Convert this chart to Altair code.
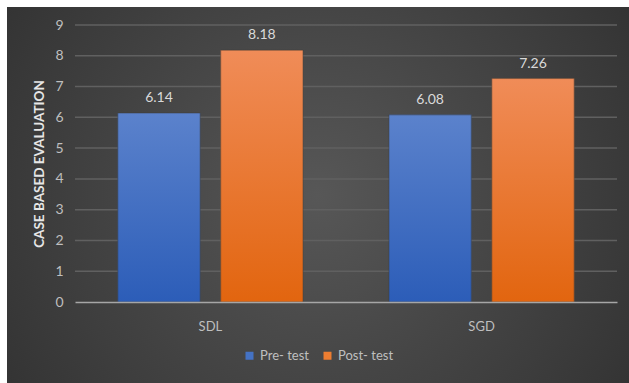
import altair as alt
import pandas as pd

categories = ["SDL", "SDL", "SGD", "SGD"]
series = ["Pre- test", "Post- test", "Pre- test", "Post- test"]
values = [6.14, 8.18, 6.08, 7.26]
series_order = ["Pre- test", "Post- test"]
series_colors = ["#4472c4", "#ed7d31"]
y_ticks = [0, 1, 2, 3, 4, 5, 6, 7, 8, 9]

df = pd.DataFrame({"cat": categories, "series": series, "value": values})
grid_df = pd.DataFrame({"value": [t for t in y_ticks if t > 0]})

W, H = 542, 277
PL, PT, PR, PB = 75, 25, 12, 81
FONT = "Lato"

x_enc = alt.X("cat:N", title=None, sort=["SDL", "SGD"],
              scale=alt.Scale(paddingInner=0.317, paddingOuter=0.158),
              axis=alt.Axis(labelAngle=0, labelColor="#bfbfbf", labelFontSize=13,
                            labelFont=FONT, ticks=False, labelPadding=18, zindex=1,
                            domainColor="#a6a6a6", domainWidth=1.5, grid=False))
xo_enc = alt.XOffset("series:N", sort=series_order,
                     scale=alt.Scale(paddingInner=0.2, paddingOuter=0))
y_scale = alt.Scale(domain=[0, 9], nice=False)
y_enc = alt.Y("value:Q", title="CASE BASED EVALUATION", scale=y_scale,
              axis=alt.Axis(values=y_ticks, labelColor="#bfbfbf", labelFontSize=14,
                            labelFont=FONT, ticks=False, labelPadding=12, domain=False,
                            grid=False, zindex=1, labelOverlap=False, tickCount=10,
                            titleColor="#e6e6e6", titleFont=FONT, titleFontSize=13.5,
                            titleFontWeight="bold", titlePadding=8))

bg = alt.Chart(alt.Data(values=[{"a": 1}])).mark_rect(
    fill=alt.Gradient(gradient="radial", x1=0.5, y1=0.5, r1=0, x2=0.5, y2=0.5, r2=0.75,
                      stops=[alt.GradientStop(color="#575757", offset=0),
                             alt.GradientStop(color="#2a2a2a", offset=1)])
).encode(x=alt.value(-(PL - 7)), x2=alt.value(W + PR), y=alt.value(-(PT - 7)), y2=alt.value(H + PB))

grid = alt.Chart(grid_df).mark_rule(color="#606060", strokeWidth=1.5).encode(
    y=y_enc, x=alt.value(0), x2=alt.value(W)
)

base = alt.Chart(df)

bars = base.mark_bar().encode(
    x=x_enc, xOffset=xo_enc, y=y_enc,
    color=alt.Color("series:N", sort=series_order,
                    scale=alt.Scale(domain=series_order, range=series_colors),
                    legend=alt.Legend(title=None, orient="none", direction="horizontal",
                                      legendX=168, legendY=324, symbolType="square",
                                      symbolSize=64, symbolStrokeWidth=0,
                                      labelColor="#bfbfbf", labelFontSize=13, labelFont=FONT,
                                      columnPadding=12, labelOffset=4))
)

def grad(top, bottom):
    return alt.Gradient(gradient="linear", x1=0, x2=0, y1=0, y2=1,
                        stops=[alt.GradientStop(color=top, offset=0),
                               alt.GradientStop(color=bottom, offset=1)])

pre = base.transform_filter(alt.datum.series == "Pre- test").mark_bar(
    color=grad("#5b82cc", "#2c5db8"), stroke="#3a3a3a", strokeWidth=0.5
).encode(x=x_enc, xOffset=xo_enc, y=y_enc)

post = base.transform_filter(alt.datum.series == "Post- test").mark_bar(
    color=grad("#f08c58", "#e2650f"), stroke="#3a3a3a", strokeWidth=0.5
).encode(x=x_enc, xOffset=xo_enc, y=y_enc)

labels = base.mark_text(baseline="bottom", dy=-8, color="#d9d9d9", fontSize=14, font=FONT).encode(
    x=x_enc, xOffset=xo_enc, y=y_enc, text=alt.Text("value:Q", format=".2f")
)

chart = alt.layer(bg, grid, bars, pre, post, labels).properties(
    width=W, height=H,
    autosize=alt.AutoSizeParams(type="none"),
    padding={"left": PL, "top": PT, "right": PR, "bottom": PB},
    background="#ffffff",
).configure_view(stroke=None)

chart.save("out.html", embed_options={"renderer": "svg", "actions": False})
